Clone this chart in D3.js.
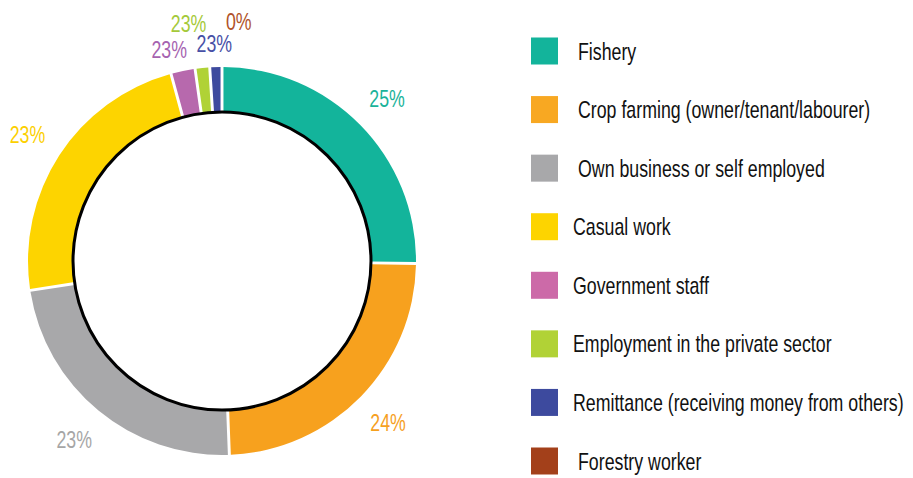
<!DOCTYPE html>
<meta charset="utf-8">
<head>
  <title>Livelihood donut</title>
</head>
<style>
body { margin: 0; background: #fff; }
svg text { font-family: "Liberation Sans", Arial, sans-serif; }
.legend text { font-size: 24px; fill: #111; }
.pct { font-size: 24px; }
</style>
<body>
<svg width="913" height="478"></svg>
<script src="https://cdnjs.cloudflare.com/ajax/libs/d3/7.8.5/d3.min.js"></script>
<script>
var categories = ["Fishery", "Crop farming (owner/tenant/labourer)", "Own business or self employed",
  "Casual work", "Government staff", "Employment in the private sector",
  "Remittance (receiving money from others)", "Forestry worker"];
var values = [25, 24, 23, 23, 2, 1.2, 1, 0];
var labels = ["25%", "24%", "23%", "23%", "23%", "23%", "23%", "0%"];
var colors = ["#13b49b", "#f7a11e", "#a8a8aa", "#fdd400", "#b769ad", "#b0d236", "#3d4a9e", "#a3401a"];
var legendColors = ["#13b49b", "#f8a822", "#a8a8aa", "#fdd400", "#cc6aa8", "#b1d236", "#3d4a9e", "#a3401a"];
var labelColors = ["#1ab39a", "#f6a01e", "#a6a6a6", "#fcd000", "#a663b0", "#a5c93a", "#4750a6", "#b0532a"];

var svg = d3.select("svg");
var cx = 222, cy = 261, outerR = 194, innerR = 149;
var squeeze = 0.74; // the original uses a condensed face

var pie = d3.pie().sort(null).value(function(d) { return d; });
var arcs = pie(values);
var arc = d3.arc().innerRadius(innerR).outerRadius(outerR).padAngle(0.012);

var g = svg.append("g").attr("transform", "translate(" + cx + "," + cy + ")");

g.selectAll("path.slice")
  .data(arcs)
  .enter()
  .append("path")
  .attr("class", "slice")
  .attr("d", arc)
  .attr("fill", function(d, i) { return colors[i]; });

// inner black ring
g.append("circle")
  .attr("r", innerR)
  .attr("fill", "#fff")
  .attr("stroke", "#000")
  .attr("stroke-width", 3);

// percent labels: big slices at mid angle, small slices fanned out on top
var smallIdx = 0;
arcs.forEach(function(d, i) {
  var ang, r;
  if (d.value >= 3) {
    ang = (d.startAngle + d.endAngle) / 2;
    r = 232;
  } else {
    ang = (346 + smallIdx * 6) * Math.PI / 180;
    r = smallIdx % 2 === 0 ? 218 : 240;
    smallIdx++;
  }
  g.append("text")
    .attr("class", "pct")
    .attr("transform", "translate(" + (r * Math.sin(ang)) + "," + (-r * Math.cos(ang)) + ") scale(" + squeeze + ",1)")
    .attr("text-anchor", "middle")
    .attr("dominant-baseline", "central")
    .attr("fill", labelColors[i])
    .text(labels[i]);
});

// legend
var ly = d3.scalePoint().domain(categories).range([51, 461]);
var legend = svg.append("g").attr("class", "legend");
var rows = legend.selectAll("g")
  .data(categories)
  .enter()
  .append("g")
  .attr("transform", function(d) { return "translate(531," + ly(d) + ")"; });
rows.append("rect")
  .attr("x", 0).attr("y", -13.5)
  .attr("width", 27).attr("height", 27)
  .attr("fill", function(d, i) { return legendColors[i]; });
rows.append("text")
  .attr("transform", function(d, i) {
    var x = [3, 4, 5, 6].indexOf(i) >= 0 ? 42 : 47;
    return "translate(" + x + ",0) scale(" + squeeze + ",1)";
  })
  .attr("dominant-baseline", "central")
  .text(function(d) { return d; });
</script>
</body>
</html>
